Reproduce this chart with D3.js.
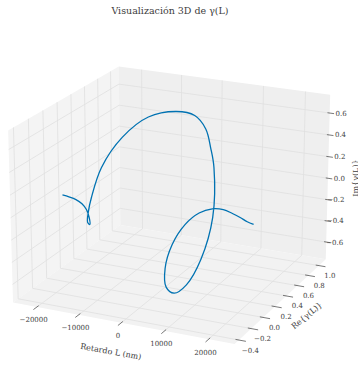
<!DOCTYPE html>
<html>
<head>
<meta charset="utf-8">
<script src="https://cdn.jsdelivr.net/npm/d3@7"></script>
<style>
  body { margin: 0; background: #fff; }
  svg { display: block; }
  text { font-family: "DejaVu Serif", serif; fill: #3d3d3d; }
</style>
</head>
<body>
<div id="chart"></div>
<script>
// retardo L (nm) and gamma(L)
const retardo = [-22500, -21000, -19500, -18000, -16500, -15000, -13500, -12000, -10500, -9000, -7500, -6000, -4500, -3000, -2250, -1500, -750, 0,
  1500, 3000, 4500, 6000, 7500, 9000, 10500, 12000, 13500, 15000, 16500, 18000, 19500, 21000, 22500];
const reGamma = [0.060, 0.065, 0.077, 0.074, 0.048, -0.003, -0.084, -0.204, -0.280, -0.325, -0.268, -0.058, 0.238, 0.577, 0.825, 0.960, 0.995, 1.000,
  0.879, 0.577, 0.238, -0.058, -0.280, -0.394, -0.388, -0.293, -0.178, -0.076, -0.005, 0.036, 0.056, 0.064, 0.060];
const imGamma = [0.000, -0.010, -0.031, -0.059, -0.091, -0.132, -0.151, -0.072, 0.073, 0.221, 0.469, 0.657, 0.732, 0.664, 0.540, 0.370, 0.180, 0.000,
  -0.410, -0.664, -0.732, -0.657, -0.485, -0.256, -0.041, 0.101, 0.161, 0.163, 0.135, 0.093, 0.058, 0.027, 0.015];

const xTicks = [-20000, -10000, 0, 10000, 20000];
const yTicks = [-0.4, -0.2, 0.0, 0.2, 0.4, 0.6, 0.8, 1.0];
const zTicks = [-0.6, -0.4, -0.2, 0.0, 0.2, 0.4, 0.6];

const width = 358, height = 365;

// box coords: x,y in [-1,1], z in [-0.75,0.75] (aspect 4:4:3)
const xs = d3.scaleLinear().domain([-25800, 25800]).range([-1, 1]);
const ys = d3.scaleLinear().domain([-0.47, 1.13]).range([-1, 1]);
const zs = d3.scaleLinear().domain([-0.765, 0.765]).range([-0.75, 0.75]);
const zh = 0.75;

// view
const azim = -65 * Math.PI / 180, elev = 20 * Math.PI / 180;
const dist = 17.5, scale = 119.3, cx = 173.4, cy = 197.5;
const sa = Math.sin(azim), ca = Math.cos(azim), se = Math.sin(elev), ce = Math.cos(elev);

function project(X, Y, Z) {
  const u = -X * sa + Y * ca;
  const d = X * ca + Y * sa;
  const v = -d * se + Z * ce;
  const w = d * ce + Z * se;
  const f = dist / (dist - w);
  return [cx + scale * u * f, cy - scale * v * f];
}

const svg = d3.select('#chart').append('svg')
  .attr('width', width)
  .attr('height', height);

const poly = pts => 'M' + pts.map(p => project(...p).join(',')).join('L') + 'Z';

// panes
const panes = svg.append('g');
panes.append('path').attr('d', poly([[-1, -1, -zh], [-1, 1, -zh], [-1, 1, zh], [-1, -1, zh]])).attr('fill', '#f4f4f4');
panes.append('path').attr('d', poly([[-1, 1, -zh], [1, 1, -zh], [1, 1, zh], [-1, 1, zh]])).attr('fill', '#efefef');
panes.append('path').attr('d', poly([[-1, -1, -zh], [1, -1, -zh], [1, 1, -zh], [-1, 1, -zh]])).attr('fill', '#f2f2f2');

// grid
const seg = (a, b) => { const p = project(...a), q = project(...b); return 'M' + p + 'L' + q; };
const grid = svg.append('g').attr('stroke', '#e0e0e0').attr('stroke-width', 0.8).attr('fill', 'none');
xTicks.forEach(t => {
  const X = xs(t);
  grid.append('path').attr('d', seg([X, 1, -zh], [X, 1, zh]));
  grid.append('path').attr('d', seg([X, -1, -zh], [X, 1, -zh]));
});
yTicks.forEach(t => {
  const Y = ys(t);
  grid.append('path').attr('d', seg([-1, Y, -zh], [-1, Y, zh]));
  grid.append('path').attr('d', seg([-1, Y, -zh], [1, Y, -zh]));
});
zTicks.forEach(t => {
  const Z = zs(t);
  grid.append('path').attr('d', seg([-1, -1, Z], [-1, 1, Z]));
  grid.append('path').attr('d', seg([-1, 1, Z], [1, 1, Z]));
});

// axes: ticks + labels
const ax = svg.append('g').attr('stroke', '#555').attr('stroke-width', 0.8);
const lab = svg.append('g').attr('font-size', 7);
const fmt = d3.format('.1f');

xTicks.forEach(t => {
  const X = xs(t);
  ax.append('path').attr('d', seg([X, -0.97, -zh], [X, -1.06, -zh]));
  const p = project(X, -1.06, -zh - 0.087);
  lab.append('text').attr('x', p[0]).attr('y', p[1] + 2.5).attr('text-anchor', 'middle')
    .text(d3.format('')(t));
});
yTicks.forEach(t => {
  const Y = ys(t);
  ax.append('path').attr('d', seg([0.97, Y, -zh], [1.06, Y, -zh]));
  const p = project(1.065, Y, -zh - 0.079);
  lab.append('text').attr('x', p[0] + 4).attr('y', p[1] + 2.5).attr('text-anchor', 'middle')
    .text(fmt(t));
});
zTicks.forEach(t => {
  const Z = zs(t);
  ax.append('path').attr('d', seg([0.98, 1, Z], [1.04, 1, Z]));
  const p = project(1, 1, Z);
  lab.append('text').attr('x', p[0] + 17).attr('y', p[1] + 2.5).attr('text-anchor', 'end')
    .text(fmt(t));
});

// axis titles
const xl = project(0, -1.2, -zh - 0.17);
svg.append('text').attr('font-size', 8).attr('text-anchor', 'middle')
  .attr('transform', `translate(${xl[0]},${xl[1] + 3}) rotate(10)`).text('Retardo L (nm)');
const yl = project(1.12, 0.3, -zh - 0.23);
svg.append('text').attr('font-size', 8).attr('text-anchor', 'middle')
  .attr('transform', `translate(${yl[0]},${yl[1] + 3}) rotate(-40)`).text('Re{\u03b3(L)}');
svg.append('text').attr('font-size', 8).attr('text-anchor', 'middle')
  .attr('transform', 'translate(357.5,178) rotate(-90)').text('Im{\u03b3(L)}');

// title
svg.append('text').attr('x', 170).attr('y', 13.5).attr('text-anchor', 'middle')
  .attr('font-size', 9.5).attr('fill', '#333').text('Visualizaci\u00f3n 3D de \u03b3(L)');

// curve
const pts = retardo.map((L, i) => project(xs(L), ys(reGamma[i]), zs(imGamma[i])));
svg.append('path')
  .attr('d', d3.line().curve(d3.curveCatmullRom)(pts))
  .attr('fill', 'none')
  .attr('stroke', '#0072b2')
  .attr('stroke-width', 1.3);
</script>
</body>
</html>
